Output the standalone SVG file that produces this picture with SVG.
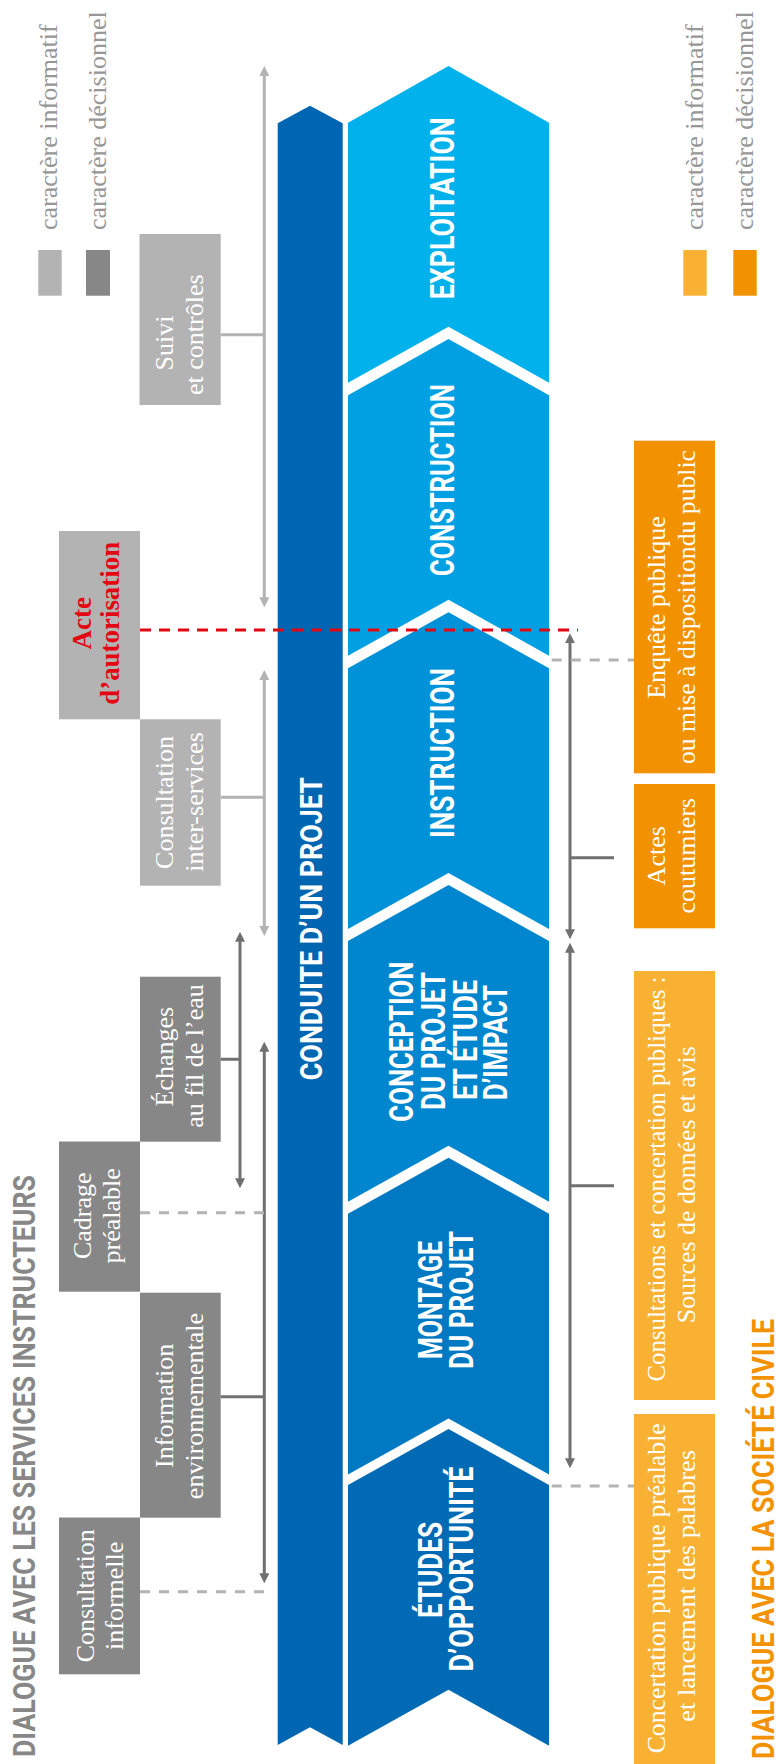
<svg xmlns="http://www.w3.org/2000/svg" width="782" height="1764" viewBox="0 0 782 1764">
<defs>
<style>
.cond{font-family:Roboto,'Liberation Sans',sans-serif;font-weight:700;fill:#fff;text-anchor:middle}
.ph{font-size:33px}
.ser{font-family:'Liberation Serif',serif;font-size:26px;fill:#fff;text-anchor:middle}
.leg{font-family:'Liberation Serif',serif;font-size:26px;fill:#979797}
.lg{fill:#b3b3b3}.dg{fill:#878787}.lo{fill:#f8b133}.do{fill:#f39200}
.al{stroke:#b3b3b3;stroke-width:3;fill:none}
.ad{stroke:#707070;stroke-width:3;fill:none}
.dash{stroke:#b3b3b3;stroke-width:3;stroke-dasharray:10 9;fill:none}
.red{stroke:#e30613;stroke-width:3;stroke-dasharray:11 8;fill:none}
</style>
<marker id="mL" viewBox="0 0 10 10" refX="2" refY="5" markerWidth="10" markerHeight="10" markerUnits="userSpaceOnUse" orient="auto-start-reverse"><path d="M0,0L10,5L0,10z" fill="#b3b3b3"/></marker>
<marker id="mD" viewBox="0 0 10 10" refX="2" refY="5" markerWidth="10" markerHeight="10" markerUnits="userSpaceOnUse" orient="auto-start-reverse"><path d="M0,0L10,5L0,10z" fill="#707070"/></marker>
</defs>

<g id="legend-left">
<rect class="lg" x="38.3" y="250" width="23.4" height="45.7"/>
<rect class="dg" x="86" y="250" width="24" height="45.7"/>
<text class="leg" transform="translate(57,230) rotate(-90)">caractère informatif</text>
<text class="leg" transform="translate(106,230) rotate(-90)">caractère décisionnel</text>
</g>
<g id="legend-right">
<rect class="lo" x="683.3" y="250" width="23.4" height="45.7"/>
<rect class="do" x="733.3" y="250" width="23.4" height="45.7"/>
<text class="leg" transform="translate(703,230) rotate(-90)">caractère informatif</text>
<text class="leg" transform="translate(753,230) rotate(-90)">caractère décisionnel</text>
</g>

<g id="title-left">
<text class="cond" style="font-size:31px;fill:#878787;text-anchor:start" transform="translate(35,1757) rotate(-90)" textLength="582" lengthAdjust="spacingAndGlyphs">DIALOGUE AVEC LES SERVICES INSTRUCTEURS</text>
</g>
<g id="title-right">
<text class="cond" style="font-size:31px;fill:#f39200;text-anchor:start" transform="translate(774,1759) rotate(-90)" textLength="440" lengthAdjust="spacingAndGlyphs">DIALOGUE AVEC LA SOCIÉTÉ CIVILE</text>
</g>

<g id="conduite">
<polygon points="277.7,123.3 310,105.7 342.7,123.3 342.7,1745 310,1727.3 277.7,1745" fill="#0066b1"/>
<text class="cond" style="font-size:31px" transform="translate(321.7,928.7) rotate(-90)" textLength="303" lengthAdjust="spacingAndGlyphs">CONDUITE D’UN PROJET</text>
</g>

<g id="exploitation">
<polygon points="348,122.7 448.5,66 549,122.7 549,382.7 448.5,326.7 348,382.7" fill="#00b1eb"/>
<text class="cond ph" transform="translate(454,208.3) rotate(-90)" textLength="182" lengthAdjust="spacingAndGlyphs">EXPLOITATION</text>
</g>
<g id="construction">
<polygon points="348,395.3 448.5,339 549,395.3 549,655.7 448.5,599.7 348,655.7" fill="#00a0e2"/>
<text class="cond ph" transform="translate(454,480) rotate(-90)" textLength="192" lengthAdjust="spacingAndGlyphs">CONSTRUCTION</text>
</g>
<g id="instruction">
<polygon points="348,668.3 448.5,612.3 549,668.3 549,929 448.5,873 348,929" fill="#0092d8"/>
<text class="cond ph" transform="translate(454,753) rotate(-90)" textLength="170" lengthAdjust="spacingAndGlyphs">INSTRUCTION</text>
</g>
<g id="conception">
<polygon points="348,941 448.5,885 549,941 549,1201.7 448.5,1145.7 348,1201.7" fill="#0086cf"/>
<text class="cond ph" transform="translate(413.3,1041.7) rotate(-90)" textLength="160" lengthAdjust="spacingAndGlyphs">CONCEPTION</text>
<text class="cond ph" transform="translate(445,1041) rotate(-90)" textLength="138" lengthAdjust="spacingAndGlyphs">DU PROJET</text>
<text class="cond ph" transform="translate(476.7,1040) rotate(-90)" textLength="120" lengthAdjust="spacingAndGlyphs">ET ÉTUDE</text>
<text class="cond ph" transform="translate(507.3,1042.5) rotate(-90)" textLength="115" lengthAdjust="spacingAndGlyphs">D’IMPACT</text>
</g>
<g id="montage">
<polygon points="348,1213.7 448.5,1157.7 549,1213.7 549,1474.4 448.5,1418.4 348,1474.4" fill="#0079c2"/>
<text class="cond ph" transform="translate(441.7,1300) rotate(-90)" textLength="118" lengthAdjust="spacingAndGlyphs">MONTAGE</text>
<text class="cond ph" transform="translate(472.7,1300) rotate(-90)" textLength="138" lengthAdjust="spacingAndGlyphs">DU PROJET</text>
</g>
<g id="etudes">
<polygon points="348,1485 448.5,1429 549,1485 549,1745.7 448.5,1689.7 348,1745.7" fill="#006ab4"/>
<text class="cond ph" transform="translate(441.7,1570) rotate(-90)" textLength="96" lengthAdjust="spacingAndGlyphs">ÉTUDES</text>
<text class="cond ph" transform="translate(472.7,1569) rotate(-90)" textLength="205" lengthAdjust="spacingAndGlyphs">D’OPPORTUNITÉ</text>
</g>

<g id="suivi">
<rect class="lg" x="139.5" y="234" width="81.2" height="171"/>
<text class="ser" transform="translate(173.3,343) rotate(-90)">Suivi</text>
<text class="ser" transform="translate(202.7,334.7) rotate(-90)">et contrôles</text>
</g>
<g id="acte">
<rect class="lg" x="59" y="531" width="81" height="188.3"/>
<text class="ser" style="font-weight:700;font-size:27px;fill:#e30613" transform="translate(90.7,623.3) rotate(-90)">Acte</text>
<text class="ser" style="font-weight:700;font-size:27px;fill:#e30613" transform="translate(119.3,623.3) rotate(-90)" textLength="163" lengthAdjust="spacingAndGlyphs">d’autorisation</text>
</g>
<g id="consultation-inter">
<rect class="lg" x="140" y="719.3" width="80.7" height="166.4"/>
<text class="ser" transform="translate(173.3,802.5) rotate(-90)">Consultation</text>
<text class="ser" transform="translate(202.7,802) rotate(-90)">inter-services</text>
</g>
<g id="echanges">
<rect class="dg" x="140" y="976.7" width="80.7" height="165"/>
<text class="ser" transform="translate(173.3,1056.7) rotate(-90)">Échanges</text>
<text class="ser" transform="translate(202.7,1056) rotate(-90)">au fil de l’eau</text>
</g>
<g id="cadrage">
<rect class="dg" x="59" y="1141.5" width="81" height="150.2"/>
<text class="ser" transform="translate(90.5,1215.8) rotate(-90)">Cadrage</text>
<text class="ser" transform="translate(119.5,1215.8) rotate(-90)">préalable</text>
</g>
<g id="information">
<rect class="dg" x="140" y="1292.7" width="80.7" height="225"/>
<text class="ser" transform="translate(173.3,1405.8) rotate(-90)">Information</text>
<text class="ser" transform="translate(202.7,1406) rotate(-90)">environnementale</text>
</g>
<g id="consultation-informelle">
<rect class="dg" x="59" y="1517.5" width="81" height="156.8"/>
<text class="ser" transform="translate(94,1595.8) rotate(-90)">Consultation</text>
<text class="ser" transform="translate(123,1595.8) rotate(-90)">informelle</text>
</g>

<g id="enquete">
<rect class="do" x="634" y="440.7" width="81" height="332.6"/>
<text class="ser" transform="translate(665,607.5) rotate(-90)">Enquête publique</text>
<text class="ser" transform="translate(695,607) rotate(-90)" textLength="314" lengthAdjust="spacingAndGlyphs">ou mise à dispositiondu public</text>
</g>
<g id="actes-coutumiers">
<rect class="do" x="634" y="784" width="81" height="144.3"/>
<text class="ser" transform="translate(665,855.8) rotate(-90)">Actes</text>
<text class="ser" transform="translate(695,855.8) rotate(-90)">coutumiers</text>
</g>
<g id="consultations-publiques">
<rect class="lo" x="634" y="971" width="81" height="429"/>
<text class="ser" transform="translate(665,1179) rotate(-90)" textLength="405" lengthAdjust="spacingAndGlyphs">Consultations et concertation publiques :</text>
<text class="ser" transform="translate(695,1184.7) rotate(-90)" textLength="277" lengthAdjust="spacingAndGlyphs">Sources de données et avis</text>
</g>
<g id="concertation-prealable">
<rect class="lo" x="634" y="1414" width="81" height="350"/>
<text class="ser" transform="translate(665,1588.3) rotate(-90)" textLength="330" lengthAdjust="spacingAndGlyphs">Concertation publique préalable</text>
<text class="ser" transform="translate(695,1585.8) rotate(-90)" textLength="272" lengthAdjust="spacingAndGlyphs">et lancement des palabres</text>
</g>

<g id="connectors">
<path class="al" d="M264.3,74V599.3" marker-start="url(#mL)" marker-end="url(#mL)"/>
<path class="al" d="M264.3,678V928" marker-start="url(#mL)" marker-end="url(#mL)"/>
<path class="al" d="M220.7,334.7H264.3M220.7,797.3H264.3"/>
<path class="ad" d="M240,939.7V1180.3" marker-start="url(#mD)" marker-end="url(#mD)"/>
<path class="ad" d="M264.3,1049.7V1575.3" marker-start="url(#mD)" marker-end="url(#mD)"/>
<path class="ad" d="M570,641.3V931.3" marker-start="url(#mD)" marker-end="url(#mD)"/>
<path class="ad" d="M570,950.7V1460.3" marker-start="url(#mD)" marker-end="url(#mD)"/>
<path class="ad" d="M220.7,1059.3H240M220.7,1396.7H264.3M570,857.7H614M570,1185.7H614"/>
<path class="dash" d="M140,1212.7H273M140,1591.7H273M551.7,660H634M551.7,1486H634"/>
<path class="red" d="M140,630H578"/>
</g>
</svg>
